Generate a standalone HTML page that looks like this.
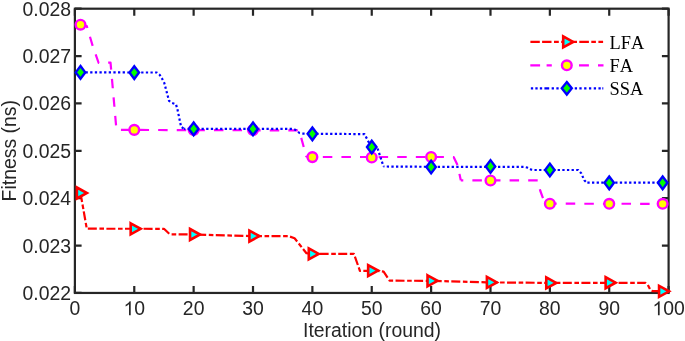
<!DOCTYPE html>
<html><head><meta charset="utf-8"><style>
html,body{margin:0;padding:0;background:#fff;width:685px;height:341px;overflow:hidden}
svg{display:block;will-change:transform}
text{font-kerning:none}
</style></head><body>
<svg width="685" height="341" viewBox="0 0 685 341"><rect x="0" y="0" width="685" height="341" fill="#ffffff"/><path d="M74.90,292.95 V285.95 M74.90,8.70 V15.70 M134.27,292.95 V285.95 M134.27,8.70 V15.70 M193.64,292.95 V285.95 M193.64,8.70 V15.70 M253.01,292.95 V285.95 M253.01,8.70 V15.70 M312.38,292.95 V285.95 M312.38,8.70 V15.70 M371.75,292.95 V285.95 M371.75,8.70 V15.70 M431.12,292.95 V285.95 M431.12,8.70 V15.70 M490.49,292.95 V285.95 M490.49,8.70 V15.70 M549.86,292.95 V285.95 M549.86,8.70 V15.70 M609.23,292.95 V285.95 M609.23,8.70 V15.70 M668.60,292.95 V285.95 M668.60,8.70 V15.70 M74.90,8.70 H81.60 M668.60,8.70 H661.90 M74.90,56.08 H81.60 M668.60,56.08 H661.90 M74.90,103.45 H81.60 M668.60,103.45 H661.90 M74.90,150.82 H81.60 M668.60,150.82 H661.90 M74.90,198.20 H81.60 M668.60,198.20 H661.90 M74.90,245.57 H81.60 M668.60,245.57 H661.90 M74.90,292.95 H81.60 M668.60,292.95 H661.90" stroke="#262626" stroke-width="2.2" fill="none"/><rect x="74.90" y="8.70" width="593.70" height="284.25" fill="none" stroke="#262626" stroke-width="2.2"/><polyline points="80.50,193.00 86.77,228.70 163.96,228.80 169.89,234.30 193.64,234.50 253.01,236.10 288.63,236.10 294.57,238.20 300.51,245.80 306.44,253.20 312.38,253.90 353.94,253.80 359.88,270.80 377.69,270.80 383.62,271.60 389.56,280.70 431.12,280.80 490.49,282.40 549.86,282.90 645.45,282.80 647.52,284.30 650.49,290.20 652.57,291.10 662.66,291.20" fill="none" stroke="#ff0000" stroke-width="2.2" stroke-dasharray="9.0 2.6 4.6 2.389" stroke-dashoffset="18.47" stroke-linejoin="round"/><polyline points="80.50,24.70 86.77,26.00 92.71,46.00 98.65,63.00 110.52,62.60 116.46,129.90 299.20,130.40 306.44,157.00" fill="none" stroke="#ff00ff" stroke-width="2.2" stroke-dasharray="9.5 9.1" stroke-dashoffset="1.00" stroke-linejoin="round"/><polyline points="306.44,157.00 453.62,157.00 457.60,165.20 460.80,180.30" fill="none" stroke="#ff00ff" stroke-width="2.2" stroke-dasharray="9.5 9.1" stroke-dashoffset="2.22" stroke-linejoin="round"/><polyline points="460.80,180.30 537.81,180.40 540.18,190.50 543.45,199.50 546.48,203.70" fill="none" stroke="#ff00ff" stroke-width="2.2" stroke-dasharray="9.5 9.1" stroke-dashoffset="7.01" stroke-linejoin="round"/><polyline points="546.48,203.70 662.66,203.80" fill="none" stroke="#ff00ff" stroke-width="2.2" stroke-dasharray="9.5 9.1" stroke-dashoffset="17.95" stroke-linejoin="round"/><polyline points="80.50,72.35 134.30,72.50 156.80,72.50 159.70,74.80 162.10,78.70 164.30,83.00 169.00,100.80 172.10,103.00 175.90,104.20 177.30,108.70 181.10,126.70 184.10,128.90" fill="none" stroke="#0000ff" stroke-width="2.2" stroke-dasharray="2.3 2.337" stroke-dashoffset="4.23" stroke-linejoin="round"/><polyline points="184.10,128.90 193.60,128.80 253.00,128.80 293.00,128.80 296.00,130.20 299.50,133.00 302.50,133.70" fill="none" stroke="#0000ff" stroke-width="2.2" stroke-dasharray="2.3 2.337" stroke-dashoffset="1.11" stroke-linejoin="round"/><polyline points="302.50,133.70 312.30,133.80 350.00,134.00 364.50,134.20 371.40,147.20 377.50,148.10 383.50,166.50" fill="none" stroke="#0000ff" stroke-width="2.2" stroke-dasharray="2.3 2.337" stroke-dashoffset="0.19" stroke-linejoin="round"/><polyline points="383.50,166.50 430.90,166.80 490.40,166.80 524.50,166.90 527.10,167.50 531.10,169.60 533.50,170.00" fill="none" stroke="#0000ff" stroke-width="2.2" stroke-dasharray="2.3 2.337" stroke-dashoffset="1.41" stroke-linejoin="round"/><polyline points="533.50,170.00 549.80,170.00 578.30,170.00 581.20,173.20 584.30,180.30 586.80,182.70" fill="none" stroke="#0000ff" stroke-width="2.2" stroke-dasharray="2.3 2.337" stroke-dashoffset="3.66" stroke-linejoin="round"/><polyline points="586.80,182.70 662.70,182.70" fill="none" stroke="#0000ff" stroke-width="2.2" stroke-dasharray="2.3 2.337" stroke-dashoffset="4.07" stroke-linejoin="round"/><path d="M76.90,187.50 L86.90,193.00 L76.90,198.50 Z" fill="#00ffff" stroke="#ff0000" stroke-width="2.6" stroke-miterlimit="10"/><path d="M130.67,223.30 L140.67,228.80 L130.67,234.30 Z" fill="#00ffff" stroke="#ff0000" stroke-width="2.6" stroke-miterlimit="10"/><path d="M190.04,229.00 L200.04,234.50 L190.04,240.00 Z" fill="#00ffff" stroke="#ff0000" stroke-width="2.6" stroke-miterlimit="10"/><path d="M249.41,230.60 L259.41,236.10 L249.41,241.60 Z" fill="#00ffff" stroke="#ff0000" stroke-width="2.6" stroke-miterlimit="10"/><path d="M308.78,248.40 L318.78,253.90 L308.78,259.40 Z" fill="#00ffff" stroke="#ff0000" stroke-width="2.6" stroke-miterlimit="10"/><path d="M368.15,265.10 L378.15,270.60 L368.15,276.10 Z" fill="#00ffff" stroke="#ff0000" stroke-width="2.6" stroke-miterlimit="10"/><path d="M427.52,275.30 L437.52,280.80 L427.52,286.30 Z" fill="#00ffff" stroke="#ff0000" stroke-width="2.6" stroke-miterlimit="10"/><path d="M486.89,276.90 L496.89,282.40 L486.89,287.90 Z" fill="#00ffff" stroke="#ff0000" stroke-width="2.6" stroke-miterlimit="10"/><path d="M546.26,277.40 L556.26,282.90 L546.26,288.40 Z" fill="#00ffff" stroke="#ff0000" stroke-width="2.6" stroke-miterlimit="10"/><path d="M605.63,277.20 L615.63,282.70 L605.63,288.20 Z" fill="#00ffff" stroke="#ff0000" stroke-width="2.6" stroke-miterlimit="10"/><path d="M659.06,285.85 L669.06,291.35 L659.06,296.85 Z" fill="#00ffff" stroke="#ff0000" stroke-width="2.6" stroke-miterlimit="10"/><circle cx="80.50" cy="24.70" r="4.85" fill="#ffff00" stroke="#ff00ff" stroke-width="2.4"/><circle cx="134.27" cy="129.90" r="4.85" fill="#ffff00" stroke="#ff00ff" stroke-width="2.4"/><circle cx="193.64" cy="130.00" r="4.85" fill="#ffff00" stroke="#ff00ff" stroke-width="2.4"/><circle cx="253.01" cy="130.00" r="4.85" fill="#ffff00" stroke="#ff00ff" stroke-width="2.4"/><circle cx="312.38" cy="157.10" r="4.85" fill="#ffff00" stroke="#ff00ff" stroke-width="2.4"/><circle cx="371.75" cy="157.50" r="4.85" fill="#ffff00" stroke="#ff00ff" stroke-width="2.4"/><circle cx="431.12" cy="157.00" r="4.85" fill="#ffff00" stroke="#ff00ff" stroke-width="2.4"/><circle cx="490.49" cy="180.50" r="4.85" fill="#ffff00" stroke="#ff00ff" stroke-width="2.4"/><circle cx="549.86" cy="203.70" r="4.85" fill="#ffff00" stroke="#ff00ff" stroke-width="2.4"/><circle cx="609.23" cy="203.80" r="4.85" fill="#ffff00" stroke="#ff00ff" stroke-width="2.4"/><circle cx="662.66" cy="203.80" r="4.85" fill="#ffff00" stroke="#ff00ff" stroke-width="2.4"/><path d="M80.50,66.05 L85.25,72.40 L80.50,78.75 L75.75,72.40 Z" fill="#00ff00" stroke="#0000ff" stroke-width="2.4" stroke-miterlimit="10"/><path d="M134.27,66.20 L139.02,72.55 L134.27,78.90 L129.52,72.55 Z" fill="#00ff00" stroke="#0000ff" stroke-width="2.4" stroke-miterlimit="10"/><path d="M193.64,122.55 L198.39,128.90 L193.64,135.25 L188.89,128.90 Z" fill="#00ff00" stroke="#0000ff" stroke-width="2.4" stroke-miterlimit="10"/><path d="M253.01,122.55 L257.76,128.90 L253.01,135.25 L248.26,128.90 Z" fill="#00ff00" stroke="#0000ff" stroke-width="2.4" stroke-miterlimit="10"/><path d="M312.38,127.45 L317.13,133.80 L312.38,140.15 L307.63,133.80 Z" fill="#00ff00" stroke="#0000ff" stroke-width="2.4" stroke-miterlimit="10"/><path d="M371.75,140.75 L376.50,147.10 L371.75,153.45 L367.00,147.10 Z" fill="#00ff00" stroke="#0000ff" stroke-width="2.4" stroke-miterlimit="10"/><path d="M431.12,160.65 L435.87,167.00 L431.12,173.35 L426.37,167.00 Z" fill="#00ff00" stroke="#0000ff" stroke-width="2.4" stroke-miterlimit="10"/><path d="M490.49,160.15 L495.24,166.50 L490.49,172.85 L485.74,166.50 Z" fill="#00ff00" stroke="#0000ff" stroke-width="2.4" stroke-miterlimit="10"/><path d="M549.86,163.65 L554.61,170.00 L549.86,176.35 L545.11,170.00 Z" fill="#00ff00" stroke="#0000ff" stroke-width="2.4" stroke-miterlimit="10"/><path d="M609.23,176.45 L613.98,182.80 L609.23,189.15 L604.48,182.80 Z" fill="#00ff00" stroke="#0000ff" stroke-width="2.4" stroke-miterlimit="10"/><path d="M662.66,176.45 L667.41,182.80 L662.66,189.15 L657.91,182.80 Z" fill="#00ff00" stroke="#0000ff" stroke-width="2.4" stroke-miterlimit="10"/><g font-family='"Liberation Sans", sans-serif' font-size="19.4" fill="#262626"><text x="69.51" y="315.2">0</text><text x="134.27" y="315.2">0</text><text x="182.85" y="315.2">2</text><text x="193.64" y="315.2">0</text><text x="242.22" y="315.2">3</text><text x="253.01" y="315.2">0</text><text x="301.59" y="315.2">4</text><text x="312.38" y="315.2">0</text><text x="360.96" y="315.2">5</text><text x="371.75" y="315.2">0</text><text x="420.33" y="315.2">6</text><text x="431.12" y="315.2">0</text><text x="479.70" y="315.2">7</text><text x="490.49" y="315.2">0</text><text x="539.07" y="315.2">8</text><text x="549.86" y="315.2">0</text><text x="598.44" y="315.2">9</text><text x="609.23" y="315.2">0</text><text x="663.21" y="315.2">0</text><text x="673.99" y="315.2">0</text><text x="71" y="15.70" text-anchor="end">0.028</text><text x="71" y="63.08" text-anchor="end">0.027</text><text x="71" y="110.45" text-anchor="end">0.026</text><text x="71" y="157.82" text-anchor="end">0.025</text><text x="71" y="205.20" text-anchor="end">0.024</text><text x="71" y="252.57" text-anchor="end">0.023</text><text x="71" y="299.95" text-anchor="end">0.022</text></g><g fill="#262626"><path transform="translate(123.48,315.2) scale(0.009473,-0.009473)" d="M763 0L583 0L583 1147C540 1106 483 1064 413 1023C344 982 281 951 226 931L226 1105C327 1152 415 1210 490 1277C565 1344 618 1408 649 1470L763 1470Z"/><path transform="translate(652.42,315.2) scale(0.009473,-0.009473)" d="M763 0L583 0L583 1147C540 1106 483 1064 413 1023C344 982 281 951 226 931L226 1105C327 1152 415 1210 490 1277C565 1344 618 1408 649 1470L763 1470Z"/></g><text x="372" y="336.8" text-anchor="middle" font-family='"Liberation Sans", sans-serif' font-size="19.4" fill="#262626">Iteration (round)</text><text transform="translate(15.8,150.75) rotate(-90)" x="0" y="0" text-anchor="middle" font-family='"Liberation Sans", sans-serif' font-size="19.4" fill="#262626">Fitness (ns)</text><line x1="530.40" y1="41.9" x2="603.10" y2="41.9" stroke="#ff0000" stroke-width="2.2" stroke-dasharray="9.40 2.30 9.40 2.50 4.80 2.40 15.80 2.30 9.60 2.40 4.60 2.50 4.70 10.00"/><path d="M563.20,36.40 L573.20,41.90 L563.20,47.40 Z" fill="#00ffff" stroke="#ff0000" stroke-width="2.6" stroke-miterlimit="10"/><line x1="530.30" y1="65.3" x2="603.50" y2="65.3" stroke="#ff00ff" stroke-width="2.2" stroke-dasharray="9.80 6.50 5.20 27.20 9.90 9.10 5.50 10.00"/><circle cx="566.80" cy="65.30" r="4.85" fill="#ffff00" stroke="#ff00ff" stroke-width="2.4"/><line x1="530.85" y1="88.3" x2="603.30" y2="88.3" stroke="#0000ff" stroke-width="2.2" stroke-dasharray="2.30 2.20 2.30 2.20 2.30 2.25 4.80 2.45 2.30 2.40 2.30 16.10 2.30 2.30 2.30 2.50 2.30 2.50 2.30 2.50 2.30 2.40 2.30 1.55 1.00 10.00"/><path d="M566.80,82.10 L571.80,88.30 L566.80,94.50 L561.80,88.30 Z" fill="#00ff00" stroke="#0000ff" stroke-width="2.4" stroke-miterlimit="10"/><text x="609.6" y="48.90" font-family='"Liberation Serif", serif' font-size="18.4" fill="#000000">LFA</text><text x="609.6" y="72.30" font-family='"Liberation Serif", serif' font-size="18.4" fill="#000000">FA</text><text x="609.6" y="95.30" font-family='"Liberation Serif", serif' font-size="18.4" fill="#000000">SSA</text></svg>
</body></html>
